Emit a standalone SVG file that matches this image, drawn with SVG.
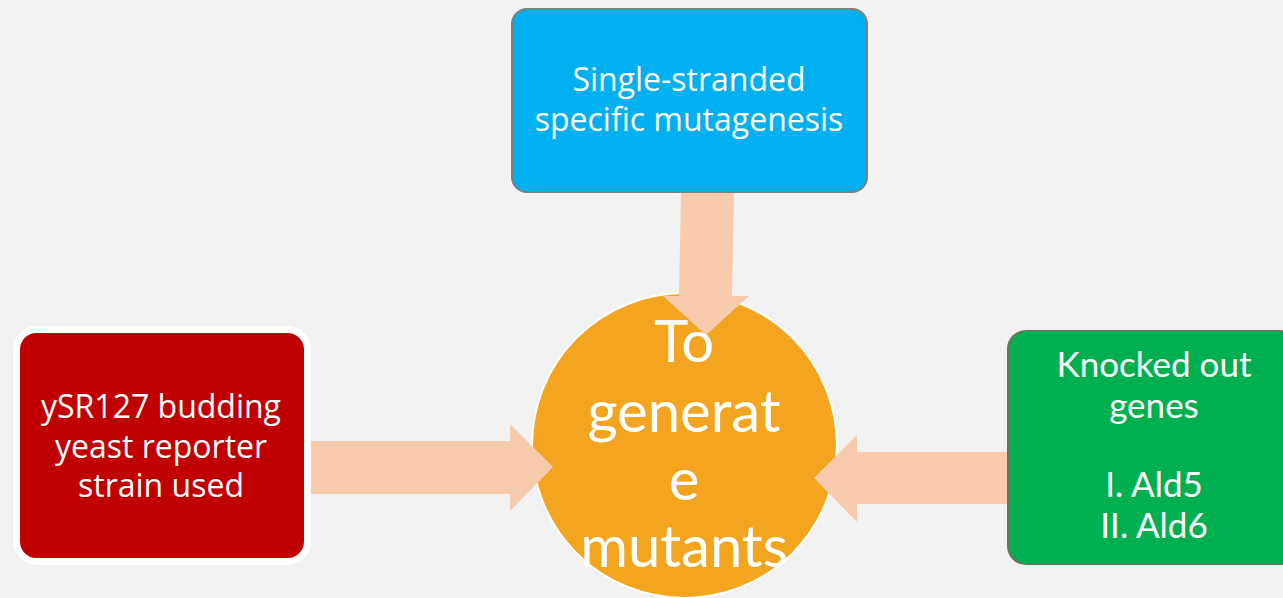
<svg xmlns="http://www.w3.org/2000/svg" width="1283" height="598" viewBox="0 0 1283 598">
<style>
.arrow{fill:#f8cbad;}
.t{fill:#ffffff;font-family:"Open Sans","Liberation Sans",sans-serif;text-anchor:middle;}
.g{fill:#ffffff;font-family:Lato,"Liberation Sans",sans-serif;text-anchor:middle;}
</style>
<rect x="0" y="0" width="1283" height="598" fill="#f2f2f2"/>
<g id="node-center">
<circle cx="684.5" cy="445.5" r="152.5" fill="#f4a520" stroke="#ffffff" stroke-width="2"/>
</g>
<g id="connectors">
<polygon class="arrow" points="681,192 734,192 732,296 749,296 706,335 663,296 679,296"/>
<polygon class="arrow" points="310,441 510,441 510,424 553,467 510,511 510,494 310,494"/>
<polygon class="arrow" points="1008,452 857,452 857,435 814,478 857,522 857,504 1008,504"/>
</g>
<g id="node-center-text">
<text class="g" font-size="58" x="684" y="362">To</text>
<text class="g" font-size="58" x="684" y="432">generat</text>
<text class="g" font-size="58" x="684" y="500">e</text>
<text class="g" font-size="58" x="684" y="567">mutants</text>
</g>
<g id="node-top">
<rect x="512" y="9" width="355" height="183" rx="15" fill="#00b0f0" stroke="#7f7f7f" stroke-width="2"/>
<text class="t" font-size="32" x="689" y="91">Single-stranded</text>
<text class="t" font-size="32" x="689" y="131">specific mutagenesis</text>
</g>
<g id="node-left">
<rect x="16.5" y="329.5" width="291" height="232" rx="20" fill="#c00000" stroke="#ffffff" stroke-width="7"/>
<text class="t" font-size="32" x="161" y="418">ySR127 budding</text>
<text class="t" font-size="32" x="161" y="458">yeast reporter</text>
<text class="t" font-size="32" x="161" y="497">strain used</text>
</g>
<g id="node-right">
<rect x="1008" y="331" width="290" height="233" rx="18" fill="#00b050" stroke="#707060" stroke-width="2"/>
<text class="g" font-size="35" x="1154" y="377">Knocked out</text>
<text class="g" font-size="35" x="1154" y="418">genes</text>
<text class="g" font-size="35" x="1154" y="497">I. Ald5</text>
<text class="g" font-size="35" x="1154" y="538">II. Ald6</text>
</g>
</svg>
